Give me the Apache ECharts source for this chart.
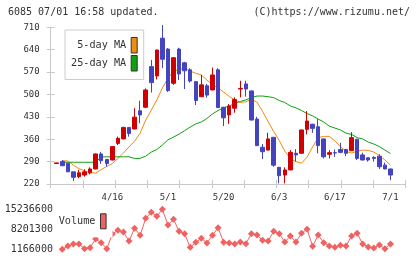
<!DOCTYPE html>
<html><head><meta charset="utf-8">
<script src="https://cdn.jsdelivr.net/npm/echarts/dist/echarts.min.js"></script>
<style>html,body{margin:0;padding:0;background:#fff}#c{width:420px;height:259px}</style>
</head><body><div id="c"></div>
<script>
const titleText = '6085 07/01 16:58 updated.';
const copyrightText = '(C)https://www.rizumu.net/';
const dates = ['4/2','4/3','4/6','4/7','4/8','4/9','4/10','4/13','4/14','4/15','4/16','4/17','4/20','4/21','4/22','4/23','4/24','4/27','4/28','4/30','5/1','5/7','5/8','5/11','5/12','5/13','5/14','5/15','5/18','5/19','5/20','5/21','5/22','5/25','5/26','5/27','5/28','5/29','6/1','6/2','6/3','6/4','6/5','6/8','6/9','6/10','6/11','6/12','6/15','6/16','6/17','6/18','6/19','6/22','6/23','6/24','6/25','6/26','6/29','6/30','7/1'];
const opens  = [284,290,285,258,243,248,255,267,314,297,295,347,361,397,392,449,460,587,558,676,642,535,642,599,577,540,493,527,514,577,460,436,457,517,533,511,423,335,326,366,272,248,264,316,316,391,407,399,361,313,318,328,328,324,360,311,302,303,307,279,267];
const closes = [286,277,258,241,255,258,267,314,293,284,337,363,397,378,429,436,514,537,639,610,512,615,564,574,542,481,530,498,561,459,427,464,484,519,517,420,340,321,361,279,246,264,319,311,389,417,394,340,305,318,317,319,316,365,300,295,295,300,274,267,248];
const lows   = [283,277,258,230,238,243,250,266,283,274,294,342,360,368,391,410,457,506,547,582,508,530,545,517,537,467,492,490,513,458,401,408,443,491,493,419,339,298,325,274,222,222,263,290,315,375,380,316,300,300,305,316,307,323,295,294,290,290,267,266,232];
const highs  = [287,295,286,259,264,266,272,315,320,298,338,368,399,398,457,480,519,608,640,717,645,616,646,602,582,541,561,533,584,582,461,470,491,543,543,512,430,345,380,367,273,272,326,329,390,448,408,423,362,326,328,349,329,382,361,318,303,307,313,287,268];
const ma5  = [null,293,292,279,268,261,256,254,265,275,284,300,317,336,354,379,420,451,483,520,551,573,578,582,573,566,561,545,531,520,508,494,483,475,477,485,476,447,415,384,356,323,299,290,285,304,336,365,369,369,355,337,322,317,322,326,325,320,309,295,279];
const ma25 = [null,288,288,288,288,288,288,288,305,305,305,305,305,305,300,300,307,320,328,342,358,367,376,387,398,408,414,425,439,450,458,464,472,478,483,490,495,495,493,490,481,475,464,458,450,440,433,423,414,401,395,389,379,375,365,361,351,345,337,326,315];
const volume = [null,1166000,2327000,3030000,3030000,1377000,1729000,4789000,3488000,1377000,6548000,7850000,7252000,4086000,8553000,6091000,12071000,14181000,12773000,15236600,9714000,11719000,7498000,6654000,1870000,3628000,5035000,3382000,6091000,8764000,3628000,3382000,3030000,3734000,3136000,6654000,6196000,4332000,4086000,7498000,6654000,3734000,5844000,3734000,6794000,8201000,2221000,6196000,3488000,2327000,1870000,2573000,2327000,5844000,6794000,3030000,1975000,1623000,2678000,1377000,3030000];
const priceMin = 220, priceMax = 710, priceStep = 70;
const volTicks = [1166000, 8201300, 15236600];
const labelEvery = 10;

const FONT = '"DejaVu Sans Mono", monospace';
const AX = '#c8c8c8', TXT = '#333';
const RED = '#d00000', BLUE = '#4444c0', ORANGE = '#f08c10', GREEN = '#10a010', PINK = '#f06262';
const plotTop = 27.3, axisY = 184, axisLeft = 50.7, axisRight = 405.3;
const slot = 5.5633, firstCenter = 56.7;
const cLeft = firstCenter - slot / 2, cWidth = slot * dates.length;

const chart = echarts.init(document.getElementById('c'));
chart.setOption({
  animation: false,
  backgroundColor: '#fff',
  graphic: [
    {type: 'text', x: 8, y: 12.8, style: {text: titleText, font: '10px ' + FONT, fill: TXT, align: 'left', verticalAlign: 'middle'}},
    {type: 'text', x: 410, y: 12.8, style: {text: copyrightText, font: '10px ' + FONT, fill: TXT, align: 'right', verticalAlign: 'middle'}}
  ],
  grid: [
    {left: axisLeft, top: plotTop, width: axisRight - axisLeft, height: axisY - plotTop},
    {left: cLeft, top: plotTop, width: cWidth, height: axisY - plotTop},
    {left: cLeft, top: 209.3, width: cWidth, height: 40}
  ],
  legend: [
    {data: [
      {name: '5-day MA', icon: 'rect', itemStyle: {color: ORANGE, borderColor: '#333', borderWidth: 1}},
      {name: '25-day MA', icon: 'rect', itemStyle: {color: GREEN, borderColor: '#333', borderWidth: 1}}],
     orient: 'vertical', align: 'right', left: 65, top: 30, padding: [7, 6, 8, 6], itemGap: 1.5,
     itemWidth: 6, itemHeight: 15.5, borderColor: '#ccc', borderWidth: 1, backgroundColor: '#fff',
     selectedMode: false, textStyle: {fontFamily: FONT, fontSize: 10.2, color: TXT}},
    {data: [{name: 'Volume', icon: 'rect', itemStyle: {color: PINK, borderColor: '#333', borderWidth: 1}}],
     orient: 'vertical', align: 'right', left: 52.7, top: 206.3, padding: [7, 6, 8, 6],
     itemWidth: 5.6, itemHeight: 15, borderWidth: 0, backgroundColor: '#fff',
     selectedMode: false, textStyle: {fontFamily: FONT, fontSize: 10.2, color: TXT}}
  ],
  xAxis: [
    {type: 'value', gridIndex: 0, min: 0, max: 11, interval: 1, position: 'bottom',
     axisLine: {show: true, lineStyle: {color: AX}}, axisTick: {show: true, length: 4, lineStyle: {color: AX}},
     axisLabel: {show: false}, splitLine: {show: false}},
    {type: 'value', gridIndex: 0, min: 0, max: 11, interval: 1, position: 'bottom',
     axisLine: {show: false}, axisTick: {show: true, inside: true, length: 4, lineStyle: {color: AX}},
     axisLabel: {show: false}, splitLine: {show: false}},
    {type: 'category', gridIndex: 1, data: dates, boundaryGap: true,
     axisLine: {show: false}, axisTick: {show: false}, splitLine: {show: false},
     axisLabel: {interval: (i) => i > 0 && i % labelEvery === 0, margin: 9.5, fontFamily: FONT, fontSize: 9, color: TXT}},
    {type: 'category', gridIndex: 2, data: dates, boundaryGap: true, show: false}
  ],
  yAxis: [
    {type: 'value', gridIndex: 0, min: priceMin, max: priceMax, interval: priceStep, position: 'left',
     axisLine: {show: true, lineStyle: {color: AX}}, axisTick: {show: true, length: 4, lineStyle: {color: AX}},
     axisLabel: {margin: 11, fontFamily: FONT, fontSize: 9, color: TXT}, splitLine: {show: false}},
    {type: 'value', gridIndex: 0, min: priceMin, max: priceMax, interval: priceStep, position: 'left',
     axisLine: {show: false}, axisTick: {show: true, inside: true, length: 4, lineStyle: {color: AX}},
     axisLabel: {show: false}, splitLine: {show: false}},
    {type: 'value', gridIndex: 1, min: priceMin, max: priceMax, show: false, splitLine: {show: false}},
    {type: 'value', gridIndex: 2, min: volTicks[0], max: volTicks[2], interval: volTicks[1] - volTicks[0], position: 'left',
     axisLine: {show: false}, axisTick: {show: false}, splitLine: {show: false},
     axisLabel: {margin: 1, fontFamily: FONT, fontSize: 10, color: TXT, formatter: (v) => String(Math.round(v))}}
  ],
  series: [
    {name: '5-day MA', type: 'line', xAxisIndex: 2, yAxisIndex: 2, data: ma5, symbol: 'none', z: 2,
     lineStyle: {color: ORANGE, width: 1}, itemStyle: {color: ORANGE}},
    {name: '25-day MA', type: 'line', xAxisIndex: 2, yAxisIndex: 2, data: ma25, symbol: 'none', z: 2,
     lineStyle: {color: GREEN, width: 1}, itemStyle: {color: GREEN}},
    {name: 'Price', type: 'candlestick', xAxisIndex: 2, yAxisIndex: 2, z: 3, clip: false, barWidth: 4,
     data: opens.map((o, i) => [o, closes[i], lows[i], highs[i]]),
     itemStyle: {color: RED, color0: BLUE, borderColor: RED, borderColor0: BLUE, borderWidth: 1}},
    {name: 'Volume', type: 'line', xAxisIndex: 3, yAxisIndex: 3, data: volume, clip: false,
     symbol: 'diamond', symbolSize: 7, showAllSymbol: true, lineStyle: {color: PINK, width: 1}, itemStyle: {color: PINK}}
  ]
});
</script>
</body></html>
